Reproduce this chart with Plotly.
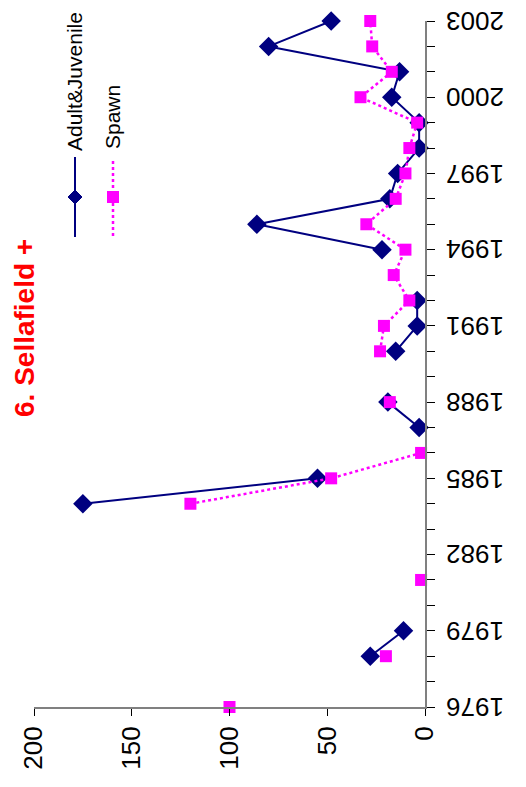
import plotly.graph_objects as go

# Survey years and catches (None = no sample that year)
years = list(range(1976, 2004))
adult_juvenile = [None, None, 28, 11, None, None, None, None, 175, 55, None, 3, 19,
                  None, 15, 4, 4, None, 22, 86, 18, 14, 3, 3, 17, 13, 80, 48]
spawn = [100, None, 20, None, None, 2, None, None, 120, 48, 2, None, 18,
         None, 23, 21, 8, 16, 10, 30, 15, 10, 8, 4, 33, 17, 27, 28]
value_ticks = [0, 50, 100, 150, 200]
labelled_years = [y for y in years if (y - 1976) % 3 == 0]

W, H = 526, 787
L, R, T, B = 34, 101, 21, 80
PW, PH = W - L - R, H - T - B

NAVY = "#000080"
MAGENTA = "#FF00FF"
FONT = "Liberation Sans, Arial, sans-serif"


def px(x):
    return (x - L) / PW


def py(y):
    return 1 - (y - T) / PH


fig = go.Figure()
fig.add_trace(go.Scatter(
    x=adult_juvenile, y=years, mode="lines+markers", name="Adult&Juvenile",
    line=dict(color=NAVY, width=2),
    marker=dict(symbol="diamond", size=15, color=NAVY),
    connectgaps=False, showlegend=False, cliponaxis=False,
))
fig.add_trace(go.Scatter(
    x=spawn, y=years, mode="lines+markers", name="Spawn",
    line=dict(color=MAGENTA, width=2.5, dash="dot"),
    marker=dict(symbol="square", size=12, color=MAGENTA),
    connectgaps=False, showlegend=False, cliponaxis=False,
))

fig.update_xaxes(
    range=[200, 0], tickvals=value_ticks, ticktext=[str(v) for v in value_ticks],
    tickangle=-90, ticks="outside", ticklen=7, tickcolor="#000", tickwidth=1,
    showline=True, linecolor="#808080", linewidth=2, showgrid=False, zeroline=False,
    tickfont=dict(family=FONT, size=26, color="#000"),
)
fig.update_yaxes(
    range=[1976, 2003], tickvals=years, side="right", showticklabels=False,
    ticks="outside", ticklen=8, tickcolor="#000", tickwidth=1,
    showline=True, linecolor="#808080", linewidth=2, showgrid=False, zeroline=False,
)

# Year labels, upside down beside the right-hand axis
annotations = [
    dict(text=str(y), xref="paper", yref="y", x=px(475), y=y, textangle=180,
         showarrow=False, xanchor="center", yanchor="middle",
         font=dict(family=FONT, size=26, color="#000"))
    for y in labelled_years
]

# Legend drawn vertically, in paper coordinates
shapes = [
    dict(type="line", xref="paper", yref="paper", x0=px(75), x1=px(75), y0=py(157), y1=py(237),
         line=dict(color=NAVY, width=2)),
    dict(type="path", xref="paper", yref="paper",
         path=f"M {px(68)},{py(197)} L {px(75)},{py(190)} L {px(82)},{py(197)} L {px(75)},{py(204)} Z",
         fillcolor=NAVY, line=dict(color=NAVY, width=1)),
    dict(type="line", xref="paper", yref="paper", x0=px(113), x1=px(113), y0=py(161), y1=py(236),
         line=dict(color=MAGENTA, width=2.5, dash="dot")),
    dict(type="rect", xref="paper", yref="paper", x0=px(107), x1=px(119), y0=py(191), y1=py(203),
         fillcolor=MAGENTA, line=dict(color=MAGENTA, width=0)),
]

annotations += [
    dict(text="Adult&Juvenile", xref="paper", yref="paper", x=px(74), y=py(82),
         textangle=-90, showarrow=False, xanchor="center", yanchor="middle",
         font=dict(family=FONT, size=21, color="#000")),
    dict(text="Spawn", xref="paper", yref="paper", x=px(112), y=py(117),
         textangle=-90, showarrow=False, xanchor="center", yanchor="middle",
         font=dict(family=FONT, size=21, color="#000")),
    dict(text="<b>6. Sellafield +</b>", xref="paper", yref="paper", x=px(24), y=py(328),
         textangle=-90, showarrow=False, xanchor="center", yanchor="middle",
         font=dict(family=FONT, size=28, color="#FF0000")),
]

fig.update_layout(
    width=W, height=H, margin=dict(l=L, r=R, t=T, b=B),
    paper_bgcolor="white", plot_bgcolor="white",
    shapes=shapes, annotations=annotations,
)

fig.write_html("out.html")
